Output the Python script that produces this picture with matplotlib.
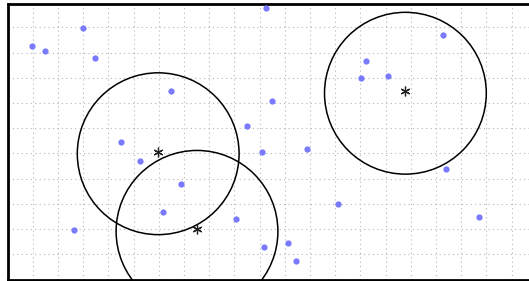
import numpy as np
import matplotlib
matplotlib.use("Agg")
import matplotlib.pyplot as plt
from matplotlib.patches import Circle

# scattered points (grid units)
pts_x = [0.98, 1.48, 2.98, 3.48, 6.49, 9.50, 4.49, 10.24, 17.29, 14.24, 14.04, 15.11, 10.48,
         5.27, 10.10, 6.88, 6.18, 9.08, 2.65, 10.18, 11.88, 17.39, 13.12, 18.70, 11.12, 11.44]
pts_y = [9.28, 9.08, 9.99, 8.78, 7.48, 6.09, 5.47, 10.79, 9.69, 8.68, 7.98, 8.08, 7.08,
         4.71, 5.07, 3.78, 2.68, 2.39, 1.98, 1.28, 5.18, 4.37, 2.98, 2.48, 1.45, 0.72]

# circle centers and radius
center_x = [5.98, 7.52, 15.79]
center_y = [4.99, 1.91, 7.39]
radius = 3.21

fig = plt.figure(figsize=(5.29, 2.81), dpi=100)
ax = fig.add_axes([7.5 / 529, 1.5 / 281, 529.2 / 529, 275.5 / 281])

ax.plot(pts_x, pts_y, 'o', color='#7a7aff', markersize=4.5, markeredgewidth=0, zorder=3)

for cx, cy in zip(center_x, center_y):
    ax.add_patch(Circle((cx, cy), radius, fill=False, edgecolor='black', linewidth=1.1, zorder=4))
ax.plot(center_x, np.array(center_y) + 0.08, linestyle='none', marker=(6, 2, 0),
        color='#222222', markersize=7, markeredgewidth=0.9, zorder=5)

ax.set_xlim(0, 21)
ax.set_ylim(0, 10.93)
ax.set_xticks(np.arange(1, 21))
ax.set_yticks(np.arange(1, 11))
ax.grid(True, color='#b5b5b5', linestyle=(0, (1, 3)), linewidth=0.8)
ax.tick_params(length=0, labelbottom=False, labelleft=False)
for s in ax.spines.values():
    s.set_linewidth(2)

fig.savefig("out.png", dpi=100)
